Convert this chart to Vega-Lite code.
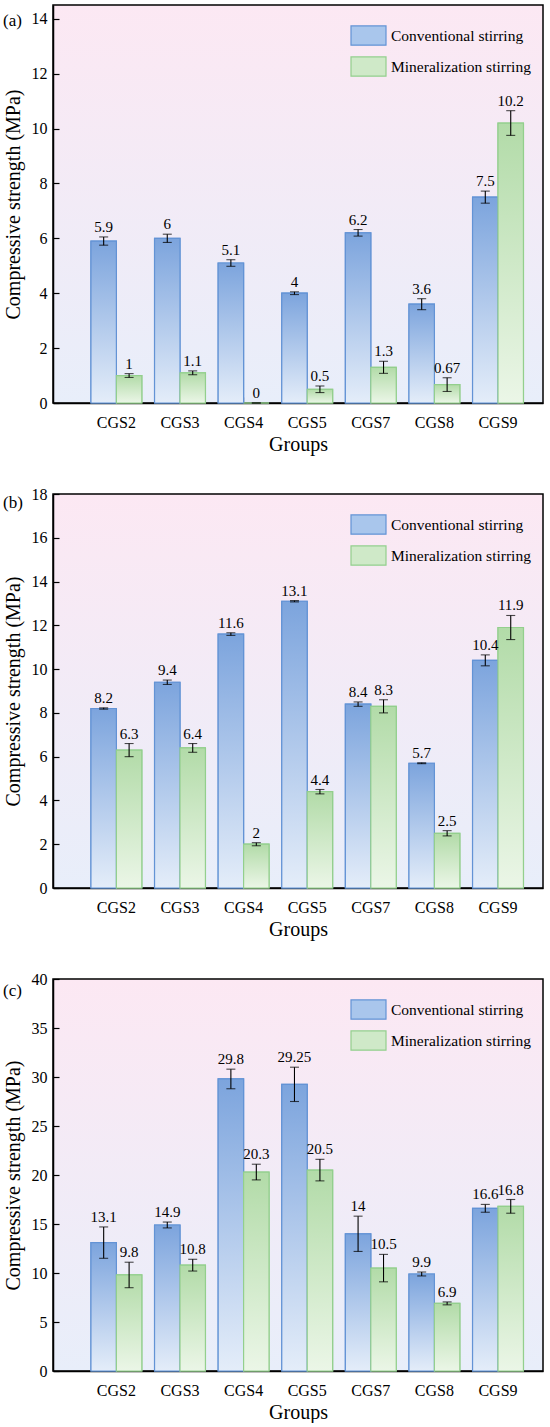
{
  "$schema": "https://vega.github.io/schema/vega-lite/v6.json",
  "padding": {"left": 2, "top": 4, "right": 7, "bottom": 0},
  "spacing": 30,
  "datasets": {
    "a": [
      {"group": "CGS2", "series": "Conventional stirring", "value": 5.9, "lo": 5.75, "hi": 6.05},
      {"group": "CGS2", "series": "Mineralization stirring", "value": 1, "lo": 0.93, "hi": 1.07},
      {"group": "CGS3", "series": "Conventional stirring", "value": 6, "lo": 5.85, "hi": 6.15},
      {"group": "CGS3", "series": "Mineralization stirring", "value": 1.1, "lo": 1.03, "hi": 1.17},
      {"group": "CGS4", "series": "Conventional stirring", "value": 5.1, "lo": 4.98, "hi": 5.22},
      {"group": "CGS4", "series": "Mineralization stirring", "value": 0, "lo": 0, "hi": 0},
      {"group": "CGS5", "series": "Conventional stirring", "value": 4, "lo": 3.95, "hi": 4.05},
      {"group": "CGS5", "series": "Mineralization stirring", "value": 0.5, "lo": 0.38, "hi": 0.62},
      {"group": "CGS7", "series": "Conventional stirring", "value": 6.2, "lo": 6.08, "hi": 6.32},
      {"group": "CGS7", "series": "Mineralization stirring", "value": 1.3, "lo": 1.08, "hi": 1.52},
      {"group": "CGS8", "series": "Conventional stirring", "value": 3.6, "lo": 3.4, "hi": 3.8},
      {"group": "CGS8", "series": "Mineralization stirring", "value": 0.67, "lo": 0.42, "hi": 0.92},
      {"group": "CGS9", "series": "Conventional stirring", "value": 7.5, "lo": 7.28, "hi": 7.72},
      {"group": "CGS9", "series": "Mineralization stirring", "value": 10.2, "lo": 9.75, "hi": 10.65}
    ],
    "b": [
      {"group": "CGS2", "series": "Conventional stirring", "value": 8.2, "lo": 8.17, "hi": 8.23},
      {"group": "CGS2", "series": "Mineralization stirring", "value": 6.3, "lo": 6.0, "hi": 6.6},
      {"group": "CGS3", "series": "Conventional stirring", "value": 9.4, "lo": 9.3, "hi": 9.5},
      {"group": "CGS3", "series": "Mineralization stirring", "value": 6.4, "lo": 6.2, "hi": 6.6},
      {"group": "CGS4", "series": "Conventional stirring", "value": 11.6, "lo": 11.54, "hi": 11.66},
      {"group": "CGS4", "series": "Mineralization stirring", "value": 2, "lo": 1.93, "hi": 2.07},
      {"group": "CGS5", "series": "Conventional stirring", "value": 13.1, "lo": 13.07, "hi": 13.13},
      {"group": "CGS5", "series": "Mineralization stirring", "value": 4.4, "lo": 4.3, "hi": 4.5},
      {"group": "CGS7", "series": "Conventional stirring", "value": 8.4, "lo": 8.3, "hi": 8.5},
      {"group": "CGS7", "series": "Mineralization stirring", "value": 8.3, "lo": 8.0, "hi": 8.6},
      {"group": "CGS8", "series": "Conventional stirring", "value": 5.7, "lo": 5.68, "hi": 5.72},
      {"group": "CGS8", "series": "Mineralization stirring", "value": 2.5, "lo": 2.38, "hi": 2.62},
      {"group": "CGS9", "series": "Conventional stirring", "value": 10.4, "lo": 10.15, "hi": 10.65},
      {"group": "CGS9", "series": "Mineralization stirring", "value": 11.9, "lo": 11.35, "hi": 12.45}
    ],
    "c": [
      {"group": "CGS2", "series": "Conventional stirring", "value": 13.1, "lo": 11.5, "hi": 14.7},
      {"group": "CGS2", "series": "Mineralization stirring", "value": 9.8, "lo": 8.5, "hi": 11.1},
      {"group": "CGS3", "series": "Conventional stirring", "value": 14.9, "lo": 14.6, "hi": 15.2},
      {"group": "CGS3", "series": "Mineralization stirring", "value": 10.8, "lo": 10.2, "hi": 11.4},
      {"group": "CGS4", "series": "Conventional stirring", "value": 29.8, "lo": 28.8, "hi": 30.8},
      {"group": "CGS4", "series": "Mineralization stirring", "value": 20.3, "lo": 19.5, "hi": 21.1},
      {"group": "CGS5", "series": "Conventional stirring", "value": 29.25, "lo": 27.5, "hi": 31.0},
      {"group": "CGS5", "series": "Mineralization stirring", "value": 20.5, "lo": 19.4, "hi": 21.6},
      {"group": "CGS7", "series": "Conventional stirring", "value": 14, "lo": 12.2, "hi": 15.8},
      {"group": "CGS7", "series": "Mineralization stirring", "value": 10.5, "lo": 9.1, "hi": 11.9},
      {"group": "CGS8", "series": "Conventional stirring", "value": 9.9, "lo": 9.7, "hi": 10.1},
      {"group": "CGS8", "series": "Mineralization stirring", "value": 6.9, "lo": 6.75, "hi": 7.05},
      {"group": "CGS9", "series": "Conventional stirring", "value": 16.6, "lo": 16.2, "hi": 17.0},
      {"group": "CGS9", "series": "Mineralization stirring", "value": 16.8, "lo": 16.1, "hi": 17.5}
    ]
  },
  "vconcat": [
    {
      "width": 490,
      "height": 398,
      "data": {"name": "a"},
      "title": {"text": "(a)", "anchor": "start", "frame": "bounds", "offset": 0, "dy": 25},
      "encoding": {
        "x": {"field": "group", "type": "nominal", "sort": null, "title": "Groups",
              "scale": {"paddingInner": 0.2, "paddingOuter": 0.452, "align": 0.66}},
        "xOffset": {"field": "series", "type": "nominal", "sort": null}
      },
      "layer": [
        {
          "mark": {"type": "bar", "strokeWidth": 1.2},
          "encoding": {
            "y": {"field": "value", "type": "quantitative", "title": "Compressive strength (MPa)",
                  "scale": {"domain": [0, 14.5], "nice": false},
                  "axis": {"values": [0,1,2,3,4,5,6,7,8,9,10,11,12,13,14], "labelExpr": "datum.value % 2 === 0 ? datum.label : ''",
                           "tickSize": {"condition": {"test": "datum.value % 2 === 0", "value": -6}, "value": -3}}},
            "fill": {"field": "series", "type": "nominal", "sort": null,
                     "scale": {"domain": ["Conventional stirring", "Mineralization stirring"], "range": ["#a9c6ec", "#cfe9c8"]}},
            "stroke": {"field": "series", "type": "nominal", "sort": null,
                       "scale": {"domain": ["Conventional stirring", "Mineralization stirring"], "range": ["#6393d5", "#93cf8d"]}}
          }
        },
        {
          "transform": [{"filter": "datum.series === 'Conventional stirring'"}],
          "mark": {"type": "bar", "strokeWidth": 1.2, "stroke": "#6393d5",
                   "fill": {"gradient": "linear", "x1": 0, "y1": 0, "x2": 0, "y2": 1, "stops": [{"offset": 0, "color": "#7ca4dd"}, {"offset": 1, "color": "#e4edf9"}]}},
          "encoding": {"y": {"field": "value", "type": "quantitative", "title": "Compressive strength (MPa)"}}
        },
        {
          "transform": [{"filter": "datum.series === 'Mineralization stirring'"}],
          "mark": {"type": "bar", "strokeWidth": 1.2, "stroke": "#93cf8d",
                   "fill": {"gradient": "linear", "x1": 0, "y1": 0, "x2": 0, "y2": 1, "stops": [{"offset": 0, "color": "#b2dba8"}, {"offset": 1, "color": "#ebf6e7"}]}},
          "encoding": {"y": {"field": "value", "type": "quantitative", "title": "Compressive strength (MPa)"}}
        },
        {
          "mark": {"type": "rule", "color": "black", "strokeWidth": 1.1},
          "encoding": {"y": {"field": "lo", "type": "quantitative", "title": "Compressive strength (MPa)"}, "y2": {"field": "hi"}}
        },
        {
          "mark": {"type": "tick", "color": "black", "size": 9, "thickness": 1.1},
          "encoding": {"y": {"field": "lo", "type": "quantitative", "title": "Compressive strength (MPa)"}}
        },
        {
          "mark": {"type": "tick", "color": "black", "size": 9, "thickness": 1.1},
          "encoding": {"y": {"field": "hi", "type": "quantitative", "title": "Compressive strength (MPa)"}}
        },
        {
          "mark": {"type": "text", "baseline": "bottom", "dy": -2, "fontSize": 15, "font": "Liberation Serif", "color": "black"},
          "encoding": {"y": {"field": "hi", "type": "quantitative", "title": "Compressive strength (MPa)"}, "text": {"field": "value", "type": "nominal"}}
        }
      ]
    },
    {
      "width": 490,
      "height": 394,
      "data": {"name": "b"},
      "title": {"text": "(b)", "anchor": "start", "frame": "bounds", "offset": 0, "dy": 26},
      "encoding": {
        "x": {"field": "group", "type": "nominal", "sort": null, "title": "Groups",
              "scale": {"paddingInner": 0.2, "paddingOuter": 0.452, "align": 0.66}},
        "xOffset": {"field": "series", "type": "nominal", "sort": null}
      },
      "layer": [
        {
          "mark": {"type": "bar", "strokeWidth": 1.2},
          "encoding": {
            "y": {"field": "value", "type": "quantitative", "title": "Compressive strength (MPa)",
                  "scale": {"domain": [0, 18], "nice": false},
                  "axis": {"values": [0,1,2,3,4,5,6,7,8,9,10,11,12,13,14,15,16,17,18], "labelExpr": "datum.value % 2 === 0 ? datum.label : ''",
                           "tickSize": {"condition": {"test": "datum.value % 2 === 0", "value": -6}, "value": -3}}},
            "fill": {"field": "series", "type": "nominal", "sort": null,
                     "scale": {"domain": ["Conventional stirring", "Mineralization stirring"], "range": ["#a9c6ec", "#cfe9c8"]}},
            "stroke": {"field": "series", "type": "nominal", "sort": null,
                       "scale": {"domain": ["Conventional stirring", "Mineralization stirring"], "range": ["#6393d5", "#93cf8d"]}}
          }
        },
        {
          "transform": [{"filter": "datum.series === 'Conventional stirring'"}],
          "mark": {"type": "bar", "strokeWidth": 1.2, "stroke": "#6393d5",
                   "fill": {"gradient": "linear", "x1": 0, "y1": 0, "x2": 0, "y2": 1, "stops": [{"offset": 0, "color": "#7ca4dd"}, {"offset": 1, "color": "#e4edf9"}]}},
          "encoding": {"y": {"field": "value", "type": "quantitative", "title": "Compressive strength (MPa)"}}
        },
        {
          "transform": [{"filter": "datum.series === 'Mineralization stirring'"}],
          "mark": {"type": "bar", "strokeWidth": 1.2, "stroke": "#93cf8d",
                   "fill": {"gradient": "linear", "x1": 0, "y1": 0, "x2": 0, "y2": 1, "stops": [{"offset": 0, "color": "#b2dba8"}, {"offset": 1, "color": "#ebf6e7"}]}},
          "encoding": {"y": {"field": "value", "type": "quantitative", "title": "Compressive strength (MPa)"}}
        },
        {
          "mark": {"type": "rule", "color": "black", "strokeWidth": 1.1},
          "encoding": {"y": {"field": "lo", "type": "quantitative", "title": "Compressive strength (MPa)"}, "y2": {"field": "hi"}}
        },
        {
          "mark": {"type": "tick", "color": "black", "size": 9, "thickness": 1.1},
          "encoding": {"y": {"field": "lo", "type": "quantitative", "title": "Compressive strength (MPa)"}}
        },
        {
          "mark": {"type": "tick", "color": "black", "size": 9, "thickness": 1.1},
          "encoding": {"y": {"field": "hi", "type": "quantitative", "title": "Compressive strength (MPa)"}}
        },
        {
          "mark": {"type": "text", "baseline": "bottom", "dy": -2, "fontSize": 15, "font": "Liberation Serif", "color": "black"},
          "encoding": {"y": {"field": "hi", "type": "quantitative", "title": "Compressive strength (MPa)"}, "text": {"field": "value", "type": "nominal"}}
        }
      ]
    },
    {
      "width": 490,
      "height": 392,
      "data": {"name": "c"},
      "title": {"text": "(c)", "anchor": "start", "frame": "bounds", "offset": 0, "dy": 29},
      "encoding": {
        "x": {"field": "group", "type": "nominal", "sort": null, "title": "Groups",
              "scale": {"paddingInner": 0.2, "paddingOuter": 0.452, "align": 0.66}},
        "xOffset": {"field": "series", "type": "nominal", "sort": null}
      },
      "layer": [
        {
          "mark": {"type": "bar", "strokeWidth": 1.2},
          "encoding": {
            "y": {"field": "value", "type": "quantitative", "title": "Compressive strength (MPa)",
                  "scale": {"domain": [0, 40], "nice": false},
                  "axis": {"values": [0,2.5,5,7.5,10,12.5,15,17.5,20,22.5,25,27.5,30,32.5,35,37.5,40], "labelExpr": "datum.value % 5 === 0 ? datum.label : ''",
                           "tickSize": {"condition": {"test": "datum.value % 5 === 0", "value": -6}, "value": -3}}},
            "fill": {"field": "series", "type": "nominal", "sort": null,
                     "scale": {"domain": ["Conventional stirring", "Mineralization stirring"], "range": ["#a9c6ec", "#cfe9c8"]}},
            "stroke": {"field": "series", "type": "nominal", "sort": null,
                       "scale": {"domain": ["Conventional stirring", "Mineralization stirring"], "range": ["#6393d5", "#93cf8d"]}}
          }
        },
        {
          "transform": [{"filter": "datum.series === 'Conventional stirring'"}],
          "mark": {"type": "bar", "strokeWidth": 1.2, "stroke": "#6393d5",
                   "fill": {"gradient": "linear", "x1": 0, "y1": 0, "x2": 0, "y2": 1, "stops": [{"offset": 0, "color": "#7ca4dd"}, {"offset": 1, "color": "#e4edf9"}]}},
          "encoding": {"y": {"field": "value", "type": "quantitative", "title": "Compressive strength (MPa)"}}
        },
        {
          "transform": [{"filter": "datum.series === 'Mineralization stirring'"}],
          "mark": {"type": "bar", "strokeWidth": 1.2, "stroke": "#93cf8d",
                   "fill": {"gradient": "linear", "x1": 0, "y1": 0, "x2": 0, "y2": 1, "stops": [{"offset": 0, "color": "#b2dba8"}, {"offset": 1, "color": "#ebf6e7"}]}},
          "encoding": {"y": {"field": "value", "type": "quantitative", "title": "Compressive strength (MPa)"}}
        },
        {
          "mark": {"type": "rule", "color": "black", "strokeWidth": 1.1},
          "encoding": {"y": {"field": "lo", "type": "quantitative", "title": "Compressive strength (MPa)"}, "y2": {"field": "hi"}}
        },
        {
          "mark": {"type": "tick", "color": "black", "size": 9, "thickness": 1.1},
          "encoding": {"y": {"field": "lo", "type": "quantitative", "title": "Compressive strength (MPa)"}}
        },
        {
          "mark": {"type": "tick", "color": "black", "size": 9, "thickness": 1.1},
          "encoding": {"y": {"field": "hi", "type": "quantitative", "title": "Compressive strength (MPa)"}}
        },
        {
          "mark": {"type": "text", "baseline": "bottom", "dy": -2, "fontSize": 15, "font": "Liberation Serif", "color": "black"},
          "encoding": {"y": {"field": "hi", "type": "quantitative", "title": "Compressive strength (MPa)"}, "text": {"field": "value", "type": "nominal"}}
        }
      ]
    }
  ],
  "resolve": {
    "scale": {"x": "independent", "y": "independent", "xOffset": "independent", "fill": "independent", "stroke": "independent"},
    "legend": {"fill": "independent", "stroke": "independent"}
  },
  "config": {
    "font": "Liberation Serif",
    "text": {"font": "Liberation Serif"},
    "view": {
      "fill": {"gradient": "linear", "x1": 0, "y1": 0, "x2": 0, "y2": 1, "stops": [{"offset": 0, "color": "#fce8f3"}, {"offset": 1, "color": "#e8eefa"}]},
      "stroke": "black",
      "strokeWidth": 1.5
    },
    "title": {"font": "Liberation Serif", "fontSize": 17, "fontWeight": "normal", "color": "black", "baseline": "middle"},
    "axis": {
      "zindex": 1,
      "labelFont": "Liberation Serif",
      "labelFontSize": 16,
      "labelColor": "black",
      "titleFont": "Liberation Serif",
      "titleFontSize": 20,
      "titleFontWeight": "normal",
      "titleColor": "black",
      "domainColor": "black",
      "domainWidth": 1.5,
      "tickColor": "black",
      "tickWidth": 1.2,
      "grid": false
    },
    "axisX": {"labelAngle": 0, "tickSize": -6, "labelPadding": 17, "titlePadding": 4},
    "axisY": {"labelPadding": 12, "titlePadding": 8},
    "legend": {
      "orient": "top-right",
      "title": null,
      "offset": 12,
      "padding": 0,
      "symbolType": "M-1,-0.55H1V0.55H-1Z",
      "symbolSize": 1225,
      "symbolStrokeWidth": 1.2,
      "labelFont": "Liberation Serif",
      "labelFontSize": 15.5,
      "labelColor": "black",
      "labelOffset": 4,
      "labelLimit": 300,
      "rowPadding": -16
    }
  }
}
